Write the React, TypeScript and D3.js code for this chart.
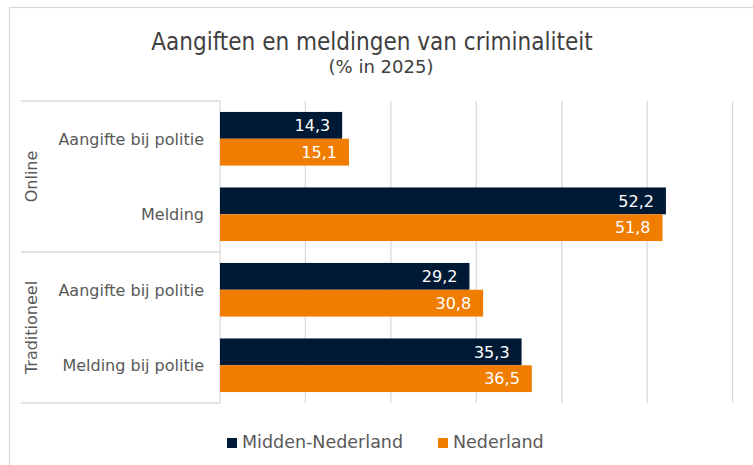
import React from 'react';
import * as d3 from 'd3';

const groups = ['Online', 'Traditioneel'];
const groupOf = ['Online', 'Online', 'Traditioneel', 'Traditioneel'];
const categories = ['Aangifte bij politie', 'Melding', 'Aangifte bij politie', 'Melding bij politie'];
const seriesNames = ['Midden-Nederland', 'Nederland'];
const middenNederland = [14.3, 52.2, 29.2, 35.3];
const nederland = [15.1, 51.8, 30.8, 36.5];
const xTicks = [0, 10, 20, 30, 40, 50, 60, 70];

const colors = ['#001a35', '#f07c00'];
const fontFamily = '"DejaVu Sans", sans-serif';
const titleFont = '"DejaVu Sans Condensed", "DejaVu Sans", sans-serif';

const nl = d3.formatLocale({ decimal: ',', thousands: '.', grouping: [3], currency: ['€', ''] });
const fmt = nl.format('.1f');

const App = () => {
  const width = 753;
  const height = 465;
  const left = 220;
  const top = 101;
  const bottom = 403;

  const x = d3.scaleLinear().domain([0, 70]).range([left, 818]);
  const y = d3.scaleBand<number>()
    .domain(categories.map((_, i) => i))
    .range([top, bottom])
    .paddingInner(0.29)
    .paddingOuter(0.145);
  const sub = d3.scaleBand<number>().domain([0, 1]).range([0, y.bandwidth()]);

  const values = [middenNederland, nederland];

  // group extents along the category axis
  const groupSpans = groups.map(g => {
    const idx = groupOf.map((gg, i) => (gg === g ? i : -1)).filter(i => i >= 0);
    const step = y.step();
    const y0 = y(idx[0])! - (y.paddingInner() * step) / 2;
    const y1 = y(idx[idx.length - 1])! + y.bandwidth() + (y.paddingInner() * step) / 2;
    return { name: g, y0: Math.max(top, y0), y1: Math.min(bottom, y1) };
  });

  return (
    <svg width={width} height={height} style={{ position: 'fixed', left: 0, top: 0, background: '#fff' }}>
      {/* outer chart border */}
      <rect x={9.5} y={7.5} width={900} height={600} fill="#fff" stroke="#d9d9d9" strokeWidth={1.3} />

      <text x={372} y={50} textAnchor="middle" fontFamily={titleFont} fontSize={24} fill="#404040">
        Aangiften en meldingen van criminaliteit
      </text>
      <text x={381} y={73} textAnchor="middle" fontFamily={fontFamily} fontSize={18} fill="#404040">
        (% in 2025)
      </text>

      {/* gridlines */}
      {xTicks.map(t => (
        <line key={t} x1={x(t)} x2={x(t)} y1={top} y2={bottom} stroke="#d9d9d9" strokeWidth={1.3} />
      ))}

      {/* category box */}
      <line x1={21} x2={left} y1={top} y2={top} stroke="#d9d9d9" strokeWidth={1.3} />
      {groupSpans.map(g => (
        <line key={g.name} x1={21} x2={left} y1={g.y1} y2={g.y1} stroke="#d9d9d9" strokeWidth={1.3} />
      ))}

      {/* bars */}
      {values.map((vals, s) =>
        vals.map((v, i) => (
          <g key={`${s}-${i}`}>
            <rect x={x(0)} y={y(i)! + sub(s)!} width={x(v) - x(0)} height={sub.bandwidth()} fill={colors[s]} />
            <text
              x={x(v) - 12}
              y={y(i)! + sub(s)! + sub.bandwidth() / 2}
              dy="0.36em"
              textAnchor="end"
              fontFamily={fontFamily}
              fontSize={16}
              fill="#fff"
            >
              {fmt(v)}
            </text>
          </g>
        ))
      )}

      {/* category labels */}
      {categories.map((c, i) => (
        <text
          key={i}
          x={204}
          y={y(i)! + y.bandwidth() / 2}
          dy="0.36em"
          textAnchor="end"
          fontFamily={fontFamily}
          fontSize={16}
          fill="#595959"
        >
          {c}
        </text>
      ))}

      {/* group labels */}
      {groupSpans.map(g => (
        <text
          key={g.name}
          transform={`translate(31.5,${(g.y0 + g.y1) / 2}) rotate(-90)`}
          dy="0.36em"
          textAnchor="middle"
          fontFamily={fontFamily}
          fontSize={16}
          fill="#595959"
        >
          {g.name}
        </text>
      ))}

      {/* legend */}
      {seriesNames.map((n, s) => {
        const lx = [227, 438][s];
        return (
          <g key={n}>
            <rect x={lx} y={438} width={10} height={10} fill={colors[s]} />
            <text x={lx + 15} y={448} fontFamily={fontFamily} fontSize={17.5} fill="#595959">
              {n}
            </text>
          </g>
        );
      })}
    </svg>
  );
};

export default App;
